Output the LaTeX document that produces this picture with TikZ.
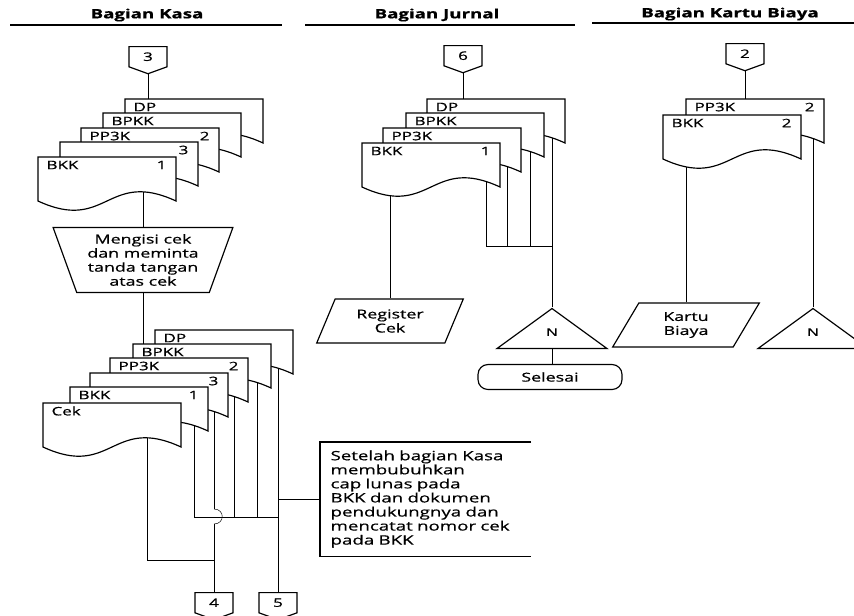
\documentclass[tikz,border=0pt]{standalone}
\usepackage{fontspec}
\setmainfont{Open Sans}[FakeStretch=1.45, FakeBold=0.6]
\usetikzlibrary{shapes.geometric, shapes.symbols, backgrounds, calc}

% dokumen: nama, x, y (kiri atas), teks, nomor lembar
\newcommand{\dokumen}[5]{%
    \draw[dok] (#2, #3) -- ++(138, 0) -- ++(0, 44) .. controls +(-69, -32) and +(69, 32) .. ++(-138, 0) -- cycle;
    \node[doklabel, anchor=west] (#1-teks) at (#2 + 8, #3 + 8) {#4};
    \node[doklabel, anchor=east] (#1-no) at (#2 + 129, #3 + 8) {#5};
    \coordinate (#1) at (#2 + 69, #3 + 22);
    \coordinate (#1-a) at (#2 + 25, #3 + 22);
    \coordinate (#1-b) at (#2 + 104, #3 + 22);
    \coordinate (#1-out) at (#2 + 124, #3 + 22);
}

\begin{document}
\begin{tikzpicture}[x=0.03cm, y=-0.03cm, line width=1pt,
        dok/.style={draw, fill=white},
        doklabel/.style={inner sep=0, font=\fontsize{10}{12}\selectfont},
        judul/.style={inner sep=0, font=\bfseries\fontsize{11}{12}\selectfont},
        offpage/.style={signal, signal to=south, signal from=nowhere, signal pointer angle=140,
            draw, fill=white, minimum width=1.14cm, minimum height=0.66cm, inner sep=0,
            font=\fontsize{10}{12}\selectfont},
        proses/.style={trapezium, shape border rotate=180, trapezium left angle=69, trapezium right angle=69,
            trapezium stretches, minimum width=5.4cm, minimum height=1.95cm, draw, fill=white,
            align=center, inner sep=0, font=\fontsize{10.5}{12}\selectfont},
        masukan/.style={trapezium, trapezium left angle=64, trapezium right angle=116, trapezium stretches,
            minimum width=4.4cm, minimum height=1.32cm, draw, fill=white, align=center, inner sep=0,
            font=\fontsize{10.5}{12}\selectfont},
        arsip/.style={isosceles triangle, shape border rotate=90, isosceles triangle stretches,
            minimum width=3.3cm, minimum height=1.2cm, draw, fill=white, inner sep=0,
            font=\fontsize{9}{11}\selectfont},
        akhir/.style={rectangle, rounded corners=0.3cm, draw, fill=white, minimum width=4.32cm,
            minimum height=0.75cm, font=\fontsize{10.5}{12}\selectfont}]
    \useasboundingbox (0, 0) rectangle (854, 616);

    % judul bagian
    \node[judul] (hKasa) at (147, 15) {Bagian Kasa};
    \node[judul] (hJurnal) at (437, 15) {Bagian Jurnal};
    \node[judul] (hKartu) at (730, 14) {Bagian Kartu Biaya};
    \draw (10, 25) -- (282, 25);
    \draw (305, 25) -- (575, 25);
    \draw (592, 23) -- (854, 23);

    % Bagian Kasa
    \node[offpage, anchor=north] (con3) at (148, 46) {3};
    \dokumen{k1DP}{125}{99}{DP}{}
    \dokumen{k1BPKK}{103}{113}{BPKK}{}
    \dokumen{k1PP3K}{81}{128}{PP3K}{2}
    \dokumen{k1tiga}{60}{142}{}{3}
    \dokumen{k1BKK}{38}{157}{BKK}{1}

    \node[proses] (isi) at (143, 260) {Mengisi cek\\dan meminta\\tanda tangan\\atas cek};

    \dokumen{k2DP}{155}{330}{DP}{}
    \dokumen{k2BPKK}{133}{344}{BPKK}{}
    \dokumen{k2PP3K}{110}{358}{PP3K}{2}
    \dokumen{k2tiga}{90}{373}{}{3}
    \dokumen{k2BKK}{70}{387}{BKK}{1}
    \dokumen{k2Cek}{43}{403}{Cek}{}

    \coordinate (k2garis) at (0, 517);
    \coordinate (k2bawah) at (0, 560);
    \node[offpage, anchor=north] (con4) at (214, 592) {4};
    \node[offpage, anchor=north] (con5) at (278, 592) {5};
    \coordinate (lompat) at (con4.north |- k2garis);

    \node[anchor=north west, text width=5.7cm, inner xsep=0.3cm, minimum height=3.39cm, align=left,
        font=\fontsize{11}{12}\selectfont] (catatan) at (320, 442)
        {Setelah bagian Kasa\\membubuhkan\\cap lunas pada\\BKK dan dokumen\\pendukungnya dan\\mencatat nomor cek\\pada BKK};
    \draw (catatan.north east) -- (catatan.north west) -- (catatan.south west) -- (catatan.south east);

    % Bagian Jurnal
    \node[offpage, anchor=north] (con6) at (463, 45) {6};
    \dokumen{jDP}{427}{99}{DP}{}
    \dokumen{jBPKK}{406}{113}{BPKK}{}
    \dokumen{jPP3K}{383}{128}{PP3K}{}
    \dokumen{jBKK}{362}{143}{BKK}{1}
    \node[masukan] (register) at (390, 321) {Register\\Cek};
    \node[arsip, anchor=apex] (jN) at (552, 307) {N};
    \node[akhir] (selesai) at (550, 377) {Selesai};
    \coordinate (jgaris) at (0, 246);

    % Bagian Kartu Biaya
    \node[offpage, anchor=north] (con2) at (745, 43) {2};
    \dokumen{kPP3K}{686}{99}{PP3K}{2}
    \dokumen{kBKK}{663}{115}{BKK}{2}
    \node[masukan] (kartu) at (686, 325) {Kartu\\Biaya};
    \node[arsip, anchor=apex] (kN) at (813, 307) {N};

    \begin{pgfonlayer}{background}
        \draw (con3.south) -- (con3.south |- k1DP);
        \draw (isi.north) -- (isi.north |- k1BKK);
        \draw (isi.south) -- (isi.south |- k2BPKK);
        \draw (k2Cek-b) |- (con4.north |- k2bawah);
        \draw (con4.north) -- ([yshift=-0.21cm]lompat);
        \draw ([yshift=-0.21cm]lompat) .. controls +(11, 0) and +(11, 0) .. ([yshift=0.24cm]lompat);
        \draw ([yshift=0.24cm]lompat) -- (con4.north |- k2tiga);
        \draw (k2BKK-out) |- (con5.north |- k2garis);
        \draw (k2PP3K-out) -- (k2PP3K-out |- k2garis);
        \draw (k2BPKK-out) -- (k2BPKK-out |- k2garis);
        \draw (con5.north) -- (con5.north |- k2DP);
        \draw[line width=0.6pt] (catatan.west) -- (catatan.west -| con5.north);

        \draw (con6.south) -- (con6.south |- jDP);
        \draw (register.north) -- (register.north |- jBKK);
        \draw (jBKK-out) |- (jN.apex |- jgaris);
        \draw (jPP3K-out) -- (jPP3K-out |- jgaris);
        \draw (jBPKK-out) -- (jBPKK-out |- jgaris);
        \draw (jN.apex) -- (jN.apex |- jDP);
        \draw (jN.apex |- jN.left corner) -- (jN.apex |- selesai.north);

        \draw (con2.south) -- (con2.south |- kPP3K);
        \draw (kartu.north) -- (kartu.north |- kBKK);
        \draw (kN.apex) -- (kN.apex |- kPP3K);
    \end{pgfonlayer}
\end{tikzpicture}
\end{document}
